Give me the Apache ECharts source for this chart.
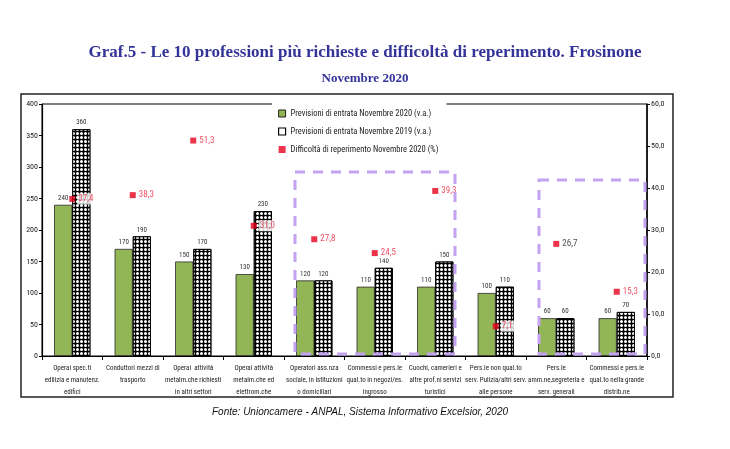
<!DOCTYPE html>
<html><head><meta charset="utf-8">
<script src="https://cdn.jsdelivr.net/npm/echarts@6/dist/echarts.min.js"></script>
<style>html,body{margin:0;padding:0;background:#fff}#c{width:730px;height:449px}</style>
</head><body><div id="c"></div>
<script>
var categories = [
  "Operai spec.ti\nedilizia e manutenz.\nedifici",
  "Conduttori mezzi di\ntrasporto",
  "Operai  attività\nmetalm.che richiesti\nin altri settori",
  "Operai attività\nmetalm.che ed\nelettrom.che",
  "Operatori ass.nza\nsociale, in istituzioni\no domiciliari",
  "Commessi e pers.le\nqual.to in negozi/es.\ningrosso",
  "Cuochi, camerieri e\naltre prof.ni servizi\nturistici",
  "Pers.le non qual.to\nserv. Pulizia/altri serv.\nalle persone",
  "Pers.le\namm.ne,segreteria e\nserv. generali",
  "Commessi e pers.le\nqual.to nella grande\ndistrib.ne"
];
var prev2020 = [240,170,150,130,120,110,110,100,60,60];
var prev2019 = [360,190,170,230,120,140,150,110,60,70];
var difficolta = [37.4,38.3,51.3,31.0,27.8,24.5,39.3,7.1,26.7,15.3];
var seriesNames = ["Previsioni di entrata Novembre 2020 (v.a.)","Previsioni di entrata Novembre 2019 (v.a.)","Difficoltà di reperimento Novembre 2020 (%)"];

// pick a condensed font if one is installed
function pickNarrow(){
  var cv=document.createElement('canvas').getContext('2d');
  var sample='Pers.le non qual.to serv. Pulizia/altri serv.';
  var cands=["Liberation Sans Narrow","DejaVu Sans Condensed","Roboto Condensed","Open Sans Condensed","Noto Sans Condensed","Arial Narrow"];
  var best=null,bw=1e9;
  for(var i=0;i<cands.length;i++){
    cv.font="10px '"+cands[i]+"', monospace"; var w1=cv.measureText(sample).width;
    cv.font="10px monospace"; var w0=cv.measureText(sample).width;
    cv.font="10px '"+cands[i]+"', serif"; var w2=cv.measureText(sample).width;
    cv.font="10px serif"; var w3=cv.measureText(sample).width;
    if(w1!==w0 && w2!==w3 && Math.abs(w1-w2)<0.01){ if(w1<bw){bw=w1;best=cands[i];} }
  }
  return best;
}
var nf = pickNarrow();
var narrow = nf ? "'"+nf+"',sans-serif" : "'Liberation Sans',Arial,sans-serif";
var axisFs = nf ? 7 : 6.3;

var chart = echarts.init(document.getElementById('c'));
var fmt = function(v){return v.toFixed(1).replace('.',',');};
var diffData = difficolta.map(function(v,i){ return i===8 ? {value:v,label:{color:'#222'}} : v; });

chart.setOption({
  backgroundColor:'#fff',
  animation:false,
  title:[
    {text:"Graf.5 - Le 10 professioni più richieste e difficoltà di reperimento. Frosinone",left:'center',top:39,
     textStyle:{fontFamily:"'Liberation Serif','Times New Roman',serif",fontWeight:'bold',fontSize:17,color:'#333399'}},
    {text:"Novembre 2020",left:'center',top:67,
     textStyle:{fontFamily:"'Liberation Serif','Times New Roman',serif",fontWeight:'bold',fontSize:13,color:'#333399'}},
    {text:"Fonte: Unioncamere - ANPAL, Sistema Informativo Excelsior, 2020",left:207,top:402,
     textStyle:{fontFamily:"'Liberation Sans',Arial,sans-serif",fontStyle:'italic',fontWeight:'normal',fontSize:10,color:'#111'}}
  ],
  legend:{
    orient:'vertical',left:272,top:103,padding:[6,8,6,6],itemGap:9,
    backgroundColor:'#fff',itemWidth:7,itemHeight:7,
    textStyle:{fontFamily:narrow,fontSize:nf?8.5:7,color:'#222'},
    data:[
      {name:seriesNames[0],icon:'rect',itemStyle:{color:'#92b556',borderColor:'#222',borderWidth:1}},
      {name:seriesNames[1],icon:'rect',itemStyle:{color:'#fff',borderColor:'#000',borderWidth:1.2,decal:'none'}},
      {name:seriesNames[2],icon:'rect',itemStyle:{color:'#e8001c'}}
    ]
  },
  grid:{left:42,right:83,top:104,bottom:93,show:true,borderColor:'#000',borderWidth:1,backgroundColor:'transparent'},
  xAxis:{type:'category',data:categories,
    axisLine:{lineStyle:{color:'#000',width:1.2}},
    axisTick:{show:true,length:4,lineStyle:{color:'#000'}},
    axisLabel:{interval:0,fontFamily:narrow,fontSize:axisFs,lineHeight:12,color:'#222',margin:6}},
  yAxis:[
    {type:'value',min:0,max:400,interval:50,splitLine:{show:false},
     axisLine:{show:true,lineStyle:{color:'#000',width:1.2}},
     axisTick:{show:true,length:3,lineStyle:{color:'#000'}},
     axisLabel:{fontFamily:narrow,fontSize:8,color:'#222',margin:4}},
    {type:'value',min:0,max:60,interval:10,position:'right',splitLine:{show:false},
     axisLine:{show:true,lineStyle:{color:'#000',width:1.5}},
     axisTick:{show:true,length:3,lineStyle:{color:'#000'}},
     axisLabel:{fontFamily:narrow,fontSize:8,color:'#222',margin:4,formatter:function(v){return fmt(v);}}}
  ],
  series:[
    {name:seriesNames[0],type:'bar',data:prev2020,barGap:'0%',barCategoryGap:'40%',
     itemStyle:{color:'#92b556',borderColor:'#2a2a2a',borderWidth:0.8},
     label:{show:true,position:'top',distance:3,fontFamily:narrow,fontSize:7,color:'#333'}},
    {name:seriesNames[1],type:'bar',data:prev2019,
     itemStyle:{color:'#000',borderColor:'#000',borderWidth:1,
       decal:{symbol:'circle',symbolSize:1,color:'#fff',dashArrayX:[[3,1]],dashArrayY:[3,1],rotation:0}},
     label:{show:true,position:'top',distance:3,fontFamily:narrow,fontSize:7,color:'#333'}},
    {name:seriesNames[2],type:'scatter',yAxisIndex:1,data:diffData,symbol:'rect',symbolSize:6,z:5,
     itemStyle:{color:'#e8001c'},
     label:{show:true,position:'right',distance:2,fontFamily:narrow,fontSize:9,color:'#e8213a',
       backgroundColor:'#fff',padding:[1,2,1,1],formatter:function(p){return fmt(p.value);}}}
  ],
  graphic:[
    {type:'rect',shape:{x:21,y:94,width:652,height:303},style:{fill:'none',stroke:'#222',lineWidth:1.5},z:-1},
    {type:'rect',shape:{x:295,y:172,width:160,height:182},style:{fill:'none',stroke:'#c4a3f2',lineWidth:3,lineDash:[10,8]},z:10},
    {type:'rect',shape:{x:539,y:180,width:106,height:174},style:{fill:'none',stroke:'#c4a3f2',lineWidth:3,lineDash:[10,8]},z:10}
  ]
});
</script></body></html>
